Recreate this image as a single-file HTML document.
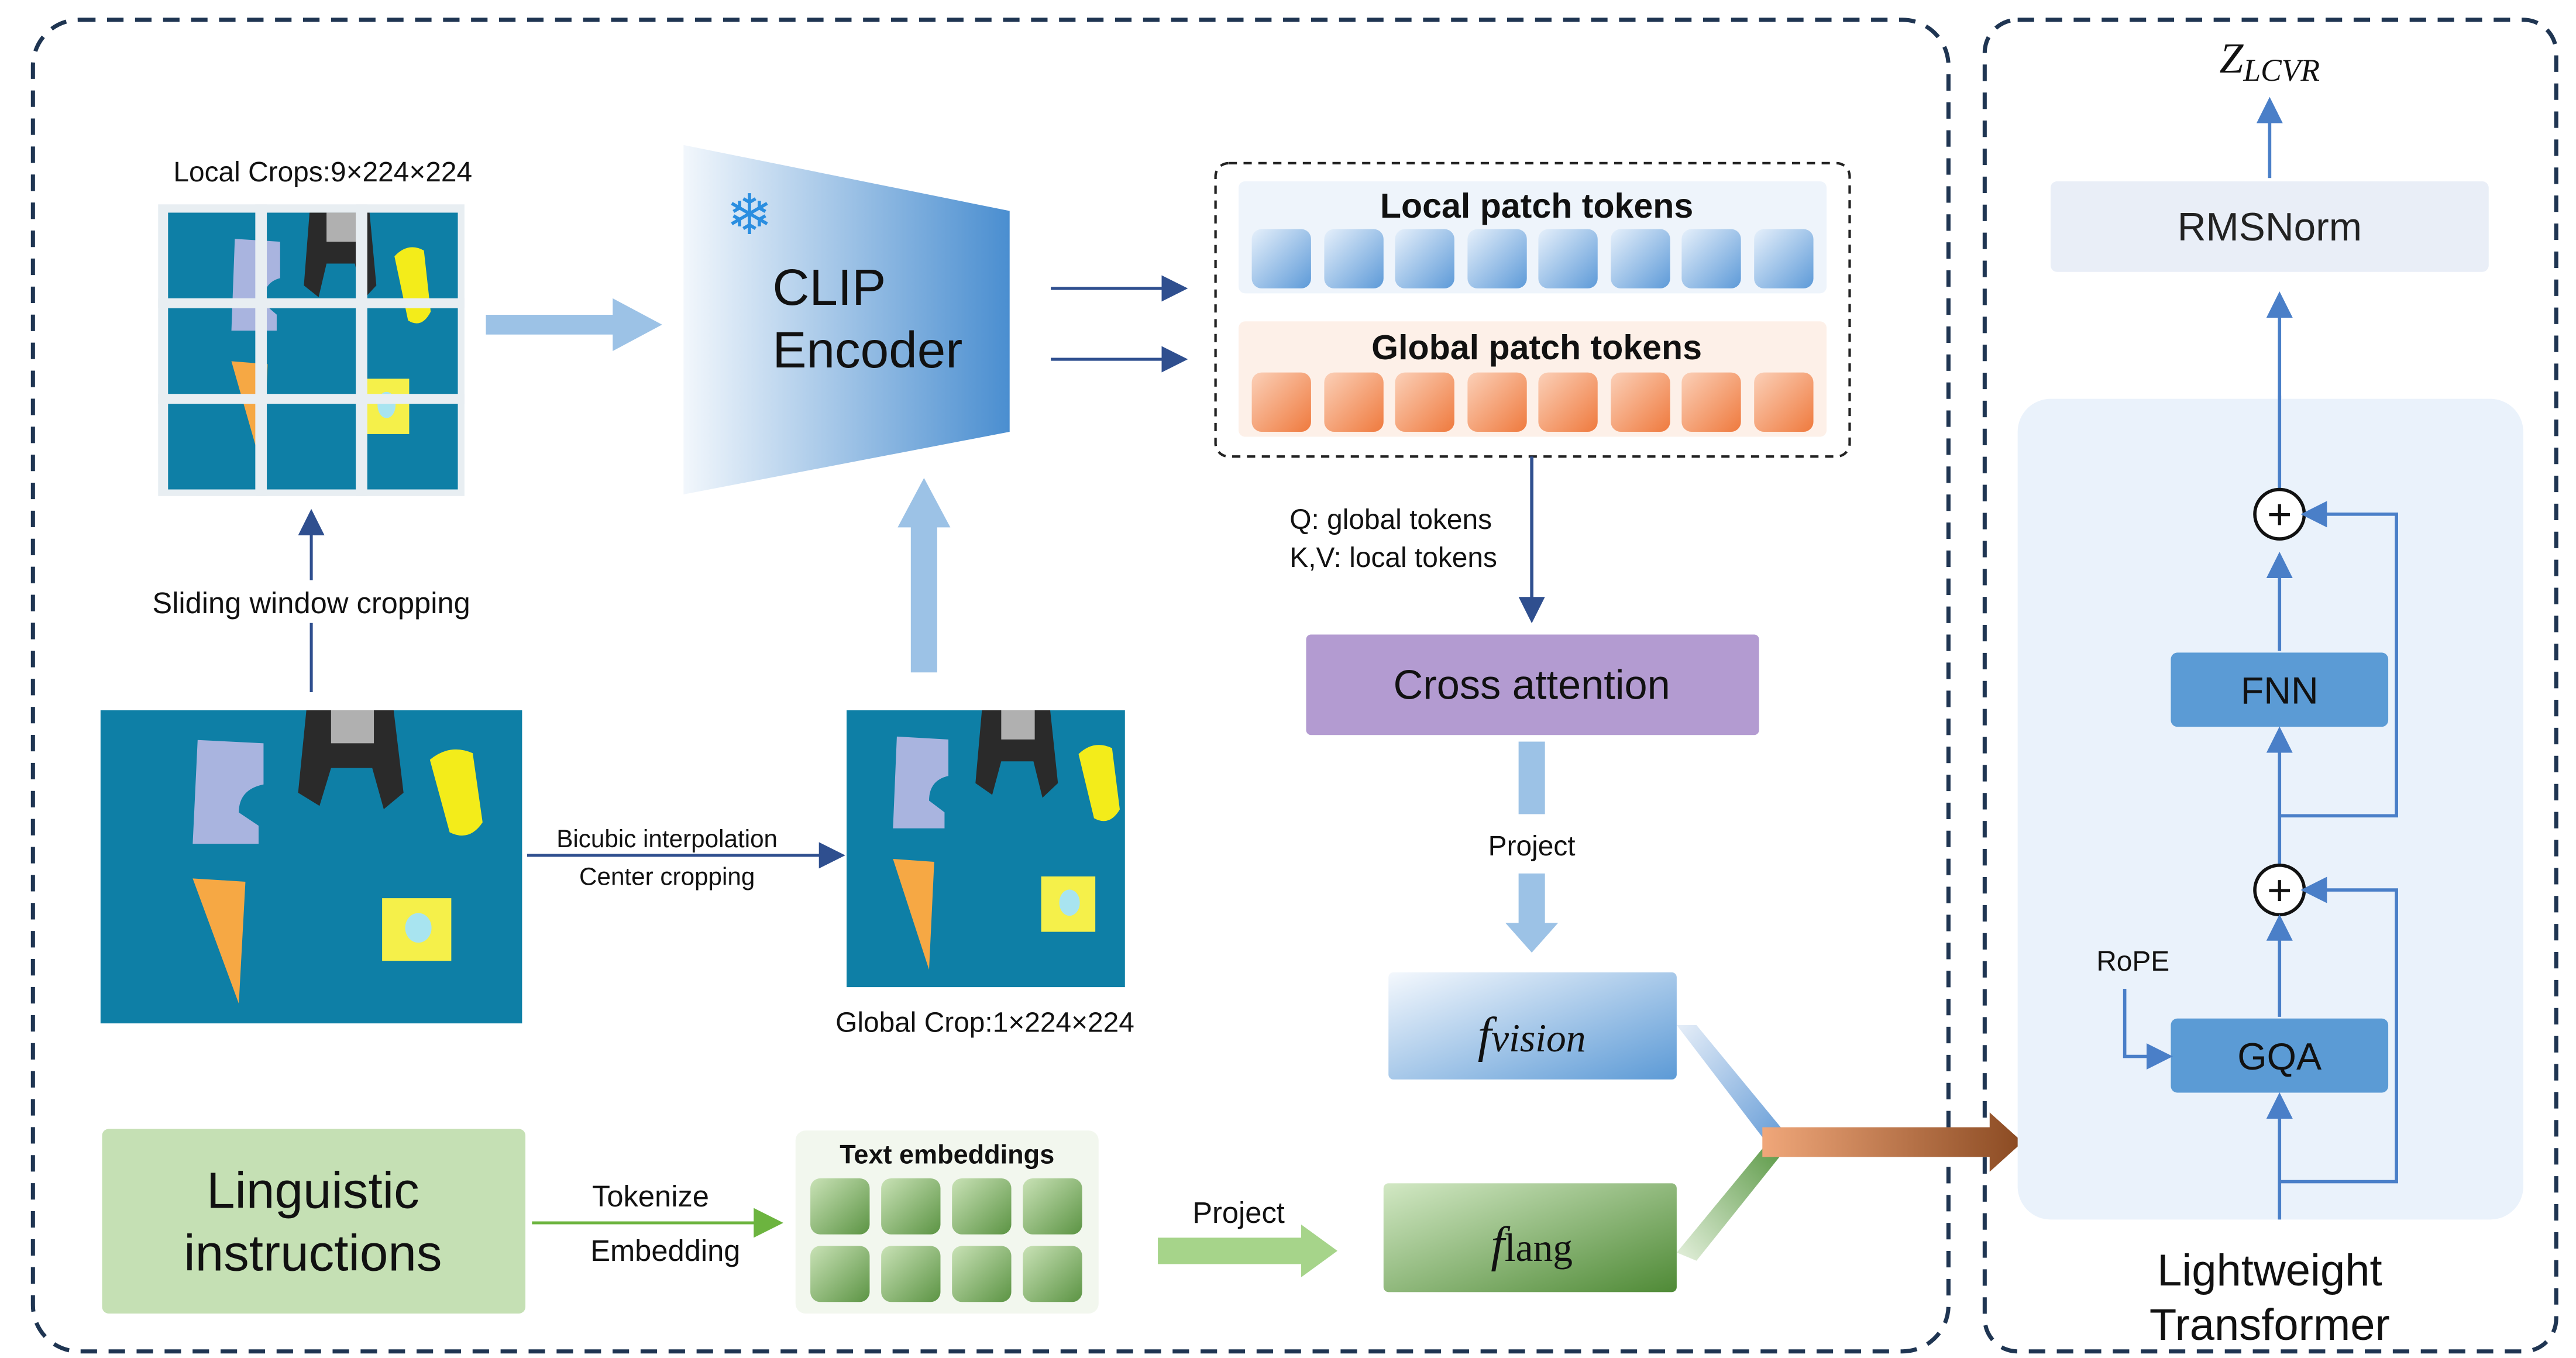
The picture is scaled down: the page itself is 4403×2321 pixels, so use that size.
<!DOCTYPE html>
<html><head><meta charset="utf-8"><style>html,body{margin:0;padding:0;background:#fff}svg{display:block}</style></head><body>
<svg xmlns="http://www.w3.org/2000/svg" width="4403" height="2321" viewBox="0 0 1564 824" preserveAspectRatio="none" font-family="'Liberation Sans', 'DejaVu Sans', sans-serif">
<defs>
<symbol id="photo" viewBox="0 0 256 190" preserveAspectRatio="none">
<rect width="256" height="190" fill="#0e7fa6"/>
<path d="M59 18 L99 20 L99 45 Q84 48 84 62 L96 70 L96 81 L56 81 Z" fill="#a9b4df"/>
<path d="M125 0 L178 0 L184 50 L172 60 L165 35 L140 35 L133 58 L120 50 Z" fill="#2a2a2a"/>
<rect x="140" y="0" width="26" height="20" fill="#b0b0b0"/>
<path d="M200 30 Q212 20 226 26 L232 68 Q224 80 212 74 Z" fill="#f3ec1a"/>
<path d="M56 102 L88 104 L84 178 Z" fill="#f6a844"/>
<rect x="171" y="114" width="42" height="38" fill="#f5f04a"/>
<ellipse cx="193" cy="132" rx="8" ry="9" fill="#a8e4f0"/>
</symbol>
<linearGradient id="clip" x1="0" x2="1"><stop offset="0" stop-color="#f2f7fc"/><stop offset="1" stop-color="#4a8ed0"/></linearGradient>
<linearGradient id="tb" x1="0" y1="0" x2="1" y2="1"><stop offset="0" stop-color="#e6f0fb"/><stop offset="1" stop-color="#5d9ad8"/></linearGradient>
<linearGradient id="to" x1="0" y1="0" x2="1" y2="1"><stop offset="0" stop-color="#fbd0b8"/><stop offset="1" stop-color="#ef7a3e"/></linearGradient>
<linearGradient id="tg" x1="0" y1="0" x2="1" y2="1"><stop offset="0" stop-color="#c9e2b6"/><stop offset="1" stop-color="#5c9444"/></linearGradient>
<linearGradient id="fv" x1="0" y1="0" x2="1" y2="1"><stop offset="0" stop-color="#f4f8fd"/><stop offset="1" stop-color="#5c9ad6"/></linearGradient>
<linearGradient id="fl" x1="0" y1="0" x2="1" y2="1"><stop offset="0" stop-color="#d2e8c4"/><stop offset="1" stop-color="#4f8a36"/></linearGradient>
<linearGradient id="br" x1="0" x2="1"><stop offset="0" stop-color="#f0a77a"/><stop offset="1" stop-color="#8a4a22"/></linearGradient>
<linearGradient id="lv" x1="0" y1="0" x2="1" y2="1"><stop offset="0" stop-color="#e6eef8"/><stop offset="1" stop-color="#6a9fd8"/></linearGradient>
<linearGradient id="lg" x1="0" y1="1" x2="1" y2="0"><stop offset="0" stop-color="#e4f0dc"/><stop offset="1" stop-color="#5d9a48"/></linearGradient>
<marker id="ad" viewBox="0 0 10 10" markerWidth="16" markerHeight="16" refX="8" refY="5" orient="auto" markerUnits="userSpaceOnUse"><path d="M0 0 L10 5 L0 10 Z" fill="#2f4f8f"/></marker>
<marker id="ab" viewBox="0 0 10 10" markerWidth="16" markerHeight="16" refX="8" refY="5" orient="auto" markerUnits="userSpaceOnUse"><path d="M0 0 L10 5 L0 10 Z" fill="#4a7fc8"/></marker>
<marker id="ag" viewBox="0 0 10 10" markerWidth="18" markerHeight="18" refX="8" refY="5" orient="auto" markerUnits="userSpaceOnUse"><path d="M0 0 L10 5 L0 10 Z" fill="#6cb43f"/></marker>
</defs>

<rect x="20" y="12" width="1163" height="808" rx="28" fill="none" stroke="#1f3552" stroke-width="2.5" stroke-dasharray="10 7"/>
<rect x="1205" y="12" width="347" height="808" rx="20" fill="none" stroke="#1f3552" stroke-width="2.5" stroke-dasharray="10 7"/>

<text x="196" y="110" font-size="17" text-anchor="middle" fill="#111">Local Crops:9×224×224</text>
<rect x="96" y="124" width="186" height="177" fill="#e8eef2"/>
<svg x="102" y="129" width="176" height="168" viewBox="0 0 256 190" preserveAspectRatio="none"><use href="#photo" width="256" height="190"/></svg>
<rect x="155" y="124" width="7" height="177" fill="#e8eef2"/>
<rect x="216" y="124" width="7" height="177" fill="#e8eef2"/>
<rect x="96" y="181" width="186" height="6" fill="#e8eef2"/>
<rect x="96" y="239" width="186" height="6" fill="#e8eef2"/>
<path d="M295 191 L372 191 L372 181 L402 197 L372 213 L372 203 L295 203 Z" fill="#9cc2e6"/>

<path d="M415 88 L613 128 L613 262 L415 300 Z" fill="url(#clip)"/>
<text x="455" y="142" font-size="34" fill="#2a8ee0" text-anchor="middle">❄</text>
<text x="469" y="185" font-size="31" fill="#111">CLIP</text>
<text x="469" y="223" font-size="31" fill="#111">Encoder</text>

<line x1="638" y1="175" x2="718" y2="175" stroke="#2f4f8f" stroke-width="1.8" marker-end="url(#ad)"/>
<line x1="638" y1="218" x2="718" y2="218" stroke="#2f4f8f" stroke-width="1.8" marker-end="url(#ad)"/>

<rect x="738" y="99" width="385" height="178" rx="8" fill="none" stroke="#222" stroke-width="1.5" stroke-dasharray="5 4"/>
<rect x="752" y="110" width="357" height="68" rx="4" fill="#eef4fb"/>
<rect x="752" y="195" width="357" height="70" rx="4" fill="#fdf0e8"/>
<text x="933" y="132" font-size="21" font-weight="bold" text-anchor="middle" fill="#111">Local patch tokens</text>
<text x="933" y="218" font-size="21" font-weight="bold" text-anchor="middle" fill="#111">Global patch tokens</text>
<g>
<rect x="760" y="139" width="36" height="36" rx="6" fill="url(#tb)"/><rect x="804" y="139" width="36" height="36" rx="6" fill="url(#tb)"/><rect x="847" y="139" width="36" height="36" rx="6" fill="url(#tb)"/><rect x="891" y="139" width="36" height="36" rx="6" fill="url(#tb)"/><rect x="934" y="139" width="36" height="36" rx="6" fill="url(#tb)"/><rect x="978" y="139" width="36" height="36" rx="6" fill="url(#tb)"/><rect x="1021" y="139" width="36" height="36" rx="6" fill="url(#tb)"/><rect x="1065" y="139" width="36" height="36" rx="6" fill="url(#tb)"/>
<rect x="760" y="226" width="36" height="36" rx="6" fill="url(#to)"/><rect x="804" y="226" width="36" height="36" rx="6" fill="url(#to)"/><rect x="847" y="226" width="36" height="36" rx="6" fill="url(#to)"/><rect x="891" y="226" width="36" height="36" rx="6" fill="url(#to)"/><rect x="934" y="226" width="36" height="36" rx="6" fill="url(#to)"/><rect x="978" y="226" width="36" height="36" rx="6" fill="url(#to)"/><rect x="1021" y="226" width="36" height="36" rx="6" fill="url(#to)"/><rect x="1065" y="226" width="36" height="36" rx="6" fill="url(#to)"/>
</g>

<line x1="930" y1="277" x2="930" y2="375" stroke="#2f4f8f" stroke-width="2" marker-end="url(#ad)"/>
<text x="783" y="321" font-size="17" fill="#111">Q: global tokens</text>
<text x="783" y="344" font-size="17" fill="#111">K,V: local tokens</text>

<rect x="793" y="385" width="275" height="61" rx="3" fill="#b39bd1"/>
<text x="930" y="424" font-size="25" text-anchor="middle" fill="#111">Cross attention</text>

<rect x="922" y="450" width="16" height="44" fill="#9cc2e6"/>
<text x="930" y="519" font-size="17" text-anchor="middle" fill="#111">Project</text>
<path d="M922 530 L938 530 L938 560 L946 560 L930 578 L914 560 L922 560 Z" fill="#9cc2e6"/>

<rect x="843" y="590" width="175" height="65" rx="3" fill="url(#fv)"/>
<text x="930" y="638" font-size="30" font-style="italic" font-family="'Liberation Serif', serif" text-anchor="middle" fill="#111">f<tspan font-size="24">vision</tspan></text>
<rect x="840" y="718" width="178" height="66" rx="3" fill="url(#fl)"/>
<text x="930" y="765" font-size="30" font-style="italic" font-family="'Liberation Serif', serif" text-anchor="middle" fill="#111">f<tspan font-size="24" font-style="normal">lang</tspan></text>

<path d="M1018 622 L1030 622 L1082 685 L1070 690 Z" fill="url(#lv)"/>
<path d="M1018 760 L1030 765 L1082 700 L1070 697 Z" fill="url(#lg)"/>
<path d="M1070 684 L1208 684 L1208 675 L1228 693 L1208 711 L1208 702 L1070 702 Z" fill="url(#br)"/>

<path d="M553 408 L553 320 L545 320 L561 290 L577 320 L569 320 L569 408 Z" fill="#9cc2e6"/>

<line x1="189" y1="420" x2="189" y2="312" stroke="#2f4f8f" stroke-width="1.8" marker-end="url(#ad)"/>
<rect x="80" y="352" width="220" height="26" fill="#fff"/>
<text x="189" y="372" font-size="18" text-anchor="middle" fill="#111">Sliding window cropping</text>

<svg x="61" y="431" width="256" height="190" viewBox="0 0 256 190" preserveAspectRatio="none"><use href="#photo" width="256" height="190"/></svg>
<svg x="514" y="431" width="169" height="168" viewBox="20 0 216 190" preserveAspectRatio="none"><use href="#photo" width="256" height="190"/></svg>
<line x1="320" y1="519" x2="510" y2="519" stroke="#2f4f8f" stroke-width="1.8" marker-end="url(#ad)"/>
<text x="405" y="514" font-size="15" text-anchor="middle" fill="#111">Bicubic interpolation</text>
<text x="405" y="537" font-size="15" text-anchor="middle" fill="#111">Center cropping</text>
<text x="598" y="626" font-size="17" text-anchor="middle" fill="#111">Global Crop:1×224×224</text>

<rect x="62" y="685" width="257" height="112" rx="4" fill="#c5e0b4"/>
<text x="190" y="733" font-size="31" text-anchor="middle" fill="#111">Linguistic</text>
<text x="190" y="771" font-size="31" text-anchor="middle" fill="#111">instructions</text>
<line x1="323" y1="742" x2="472" y2="742" stroke="#6cb43f" stroke-width="1.8" marker-end="url(#ag)"/>
<text x="395" y="732" font-size="18" text-anchor="middle" fill="#111">Tokenize</text>
<text x="404" y="765" font-size="18" text-anchor="middle" fill="#111">Embedding</text>

<rect x="483" y="686" width="184" height="111" rx="6" fill="#f2f7ee"/>
<text x="575" y="706" font-size="16" font-weight="bold" text-anchor="middle" fill="#111">Text embeddings</text>
<g>
<rect x="492" y="715" width="36" height="34" rx="6" fill="url(#tg)"/><rect x="535" y="715" width="36" height="34" rx="6" fill="url(#tg)"/><rect x="578" y="715" width="36" height="34" rx="6" fill="url(#tg)"/><rect x="621" y="715" width="36" height="34" rx="6" fill="url(#tg)"/>
<rect x="492" y="756" width="36" height="34" rx="6" fill="url(#tg)"/><rect x="535" y="756" width="36" height="34" rx="6" fill="url(#tg)"/><rect x="578" y="756" width="36" height="34" rx="6" fill="url(#tg)"/><rect x="621" y="756" width="36" height="34" rx="6" fill="url(#tg)"/>
</g>
<path d="M703 751 L790 751 L790 743 L812 759 L790 775 L790 767 L703 767 Z" fill="#a6d48a"/>
<text x="752" y="742" font-size="18" text-anchor="middle" fill="#111">Project</text>

<text x="1378" y="44" font-size="26" font-style="italic" font-family="'Liberation Serif', serif" text-anchor="middle" fill="#111">Z<tspan font-size="19" dy="5">LCVR</tspan></text>
<line x1="1378" y1="108" x2="1378" y2="62" stroke="#4a7fc8" stroke-width="2" marker-end="url(#ab)"/>
<rect x="1245" y="110" width="266" height="55" rx="4" fill="#e9eef7"/>
<text x="1378" y="146" font-size="24" text-anchor="middle" fill="#222">RMSNorm</text>
<line x1="1384" y1="290" x2="1384" y2="180" stroke="#4a7fc8" stroke-width="2" marker-end="url(#ab)"/>
<rect x="1225" y="242" width="307" height="498" rx="20" fill="#eaf2fb"/>
<line x1="1384" y1="240" x2="1384" y2="297" stroke="#4a7fc8" stroke-width="2"/>

<circle cx="1384" cy="312" r="15" fill="#fff" stroke="#111" stroke-width="2"/>
<text x="1384" y="321" font-size="26" text-anchor="middle" fill="#111">+</text>
<line x1="1384" y1="395" x2="1384" y2="338" stroke="#4a7fc8" stroke-width="2" marker-end="url(#ab)"/>
<rect x="1318" y="396" width="132" height="45" rx="4" fill="#5b9bd5"/>
<text x="1384" y="427" font-size="23" text-anchor="middle" fill="#111">FNN</text>
<line x1="1384" y1="525" x2="1384" y2="444" stroke="#4a7fc8" stroke-width="2" marker-end="url(#ab)"/>
<polyline points="1384,495 1455,495 1455,312 1400,312" fill="none" stroke="#4a7fc8" stroke-width="2" marker-end="url(#ab)"/>

<circle cx="1384" cy="540" r="15" fill="#fff" stroke="#111" stroke-width="2"/>
<text x="1384" y="549" font-size="26" text-anchor="middle" fill="#111">+</text>
<line x1="1384" y1="617" x2="1384" y2="558" stroke="#4a7fc8" stroke-width="2" marker-end="url(#ab)"/>
<rect x="1318" y="618" width="132" height="45" rx="4" fill="#5b9bd5"/>
<text x="1384" y="649" font-size="23" text-anchor="middle" fill="#111">GQA</text>
<line x1="1384" y1="740" x2="1384" y2="666" stroke="#4a7fc8" stroke-width="2" marker-end="url(#ab)"/>
<polyline points="1384,717 1455,717 1455,540 1400,540" fill="none" stroke="#4a7fc8" stroke-width="2" marker-end="url(#ab)"/>
<text x="1295" y="589" font-size="17" text-anchor="middle" fill="#111">RoPE</text>
<polyline points="1290,600 1290,641 1316,641" fill="none" stroke="#4a7fc8" stroke-width="2" marker-end="url(#ab)"/>

<text x="1378" y="780" font-size="27" text-anchor="middle" fill="#111">Lightweight</text>
<text x="1378" y="813" font-size="27" text-anchor="middle" fill="#111">Transformer</text>
</svg>
</body></html>
